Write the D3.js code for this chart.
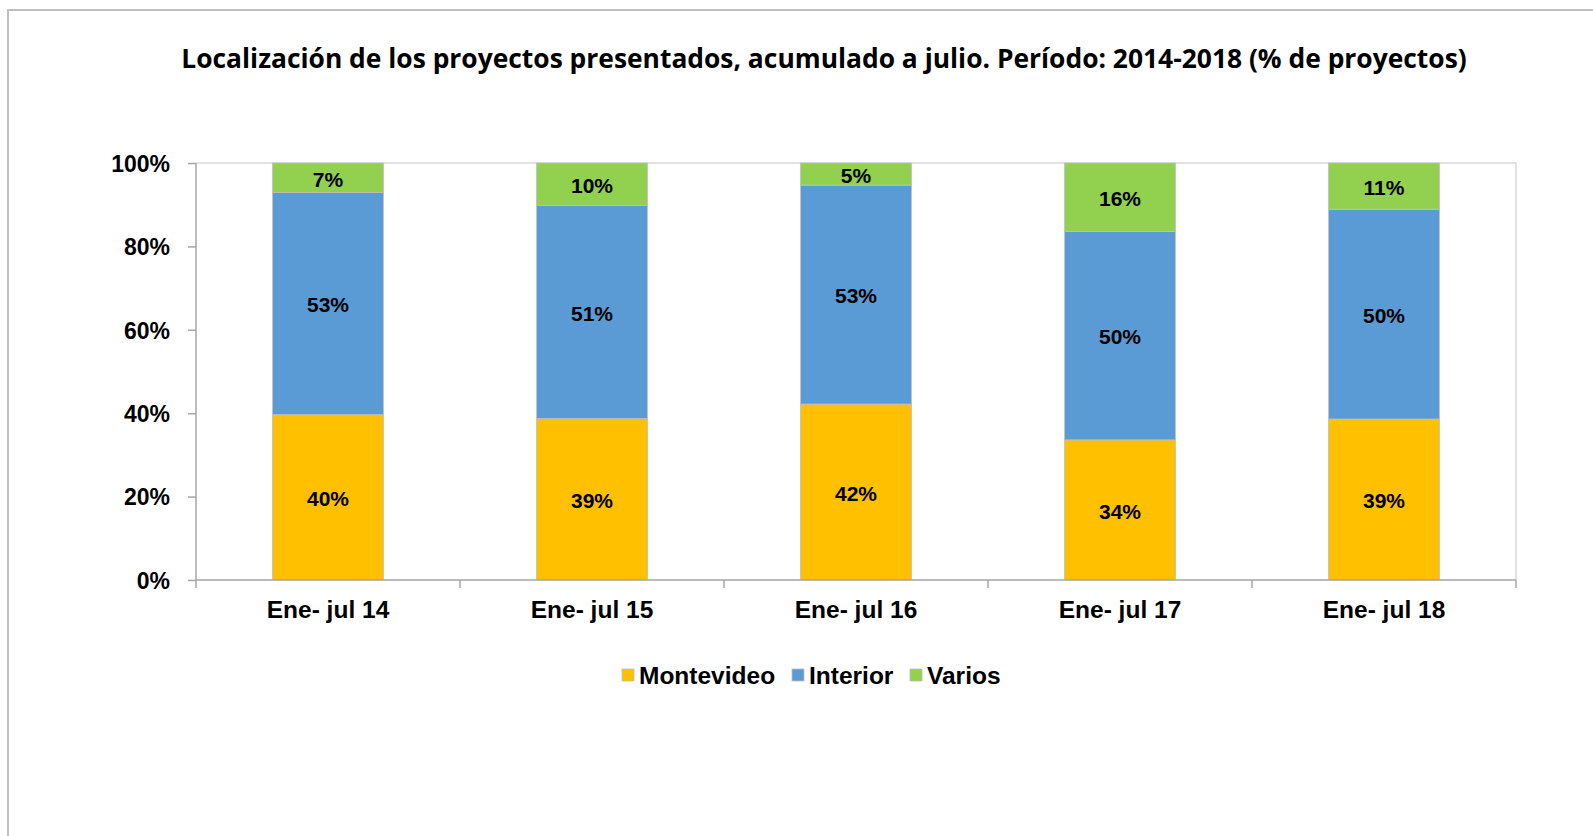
<!DOCTYPE html>
<html>
<head>
<meta charset="utf-8">
<script src="https://cdn.jsdelivr.net/npm/d3@7"></script>
<style>
  body { margin: 0; background: #fff; }
  svg { display: block; }
  .num { font-family: "Liberation Sans", Arial, sans-serif; font-weight: bold; fill: #000; }
</style>
</head>
<body>
<div id="chart"></div>
<script>
// data (% of projects)
var categories = ["Ene- jul 14", "Ene- jul 15", "Ene- jul 16", "Ene- jul 17", "Ene- jul 18"];
var montevideo = [39.7, 38.7, 42.2, 33.6, 38.6];
var interior = [53.2, 51.1, 52.5, 50.0, 50.3];
var varios = [7.1, 10.2, 5.3, 16.4, 11.1];
var seriesNames = ["Montevideo", "Interior", "Varios"];
var seriesColors = ["#FFC000", "#5B9BD5", "#92D050"];
var yTicks = [0, 20, 40, 60, 80, 100];
var title = "Localización de los proyectos presentados, acumulado a julio. Período: 2014-2018 (% de proyectos)";

var width = 1593, height = 836;
var plot = { left: 196, right: 1516, top: 163, bottom: 580 };

var svg = d3.select("#chart").append("svg")
    .attr("width", width)
    .attr("height", height);

// outer chart border (continues past the window)
svg.append("rect")
    .attr("x", 8).attr("y", 10)
    .attr("width", width + 20).attr("height", height + 20)
    .attr("fill", "#fff")
    .attr("stroke", "#bfbfbf")
    .attr("stroke-width", 2);

svg.append("text")
    .attr("x", 824).attr("y", 68)
    .attr("text-anchor", "middle")
    .style("font-family", "'Open Sans', sans-serif")
    .style("font-weight", "bold")
    .style("font-size", "26.4px")
    .text(title);

var valuesBySeries = { Montevideo: montevideo, Interior: interior, Varios: varios };

var rows = categories.map(function (c, i) {
    return { cat: c, idx: i, Montevideo: montevideo[i], Interior: interior[i], Varios: varios[i] };
});

var stack = d3.stack().keys(seriesNames)(rows);

var x = d3.scaleBand()
    .domain(categories)
    .range([plot.left, plot.right])
    .paddingInner(0.58)
    .paddingOuter(0.29);

var y = d3.scaleLinear()
    .domain([0, 100])
    .range([plot.bottom, plot.top]);

var color = d3.scaleOrdinal().domain(seriesNames).range(seriesColors);

// plot area border (top and right)
svg.append("path")
    .attr("d", "M" + plot.left + "," + plot.top + "H" + plot.right + "V" + plot.bottom)
    .attr("fill", "none")
    .attr("stroke", "#d9d9d9")
    .attr("stroke-width", 1.5);

var layers = svg.append("g").selectAll("g")
    .data(stack)
    .enter().append("g")
    .attr("fill", function (d) { return color(d.key); });

layers.selectAll("rect")
    .data(function (d) { return d; })
    .enter().append("rect")
    .attr("x", function (d) { return x(d.data.cat); })
    .attr("y", function (d) { return y(d[1]); })
    .attr("width", x.bandwidth())
    .attr("height", function (d) { return y(d[0]) - y(d[1]); })
    .attr("stroke", "#bfbfbf")
    .attr("stroke-width", 0.8);

// data labels
layers.selectAll("text")
    .data(function (d) { return d.map(function (p) { p.key = d.key; return p; }); })
    .enter().append("text")
    .attr("class", "num")
    .attr("x", function (d) { return x(d.data.cat) + x.bandwidth() / 2; })
    .attr("y", function (d) { return y((d[0] + d[1]) / 2); })
    .attr("dy", "0.42em")
    .attr("text-anchor", "middle")
    .style("font-size", "21px")
    .text(function (d) { return Math.round(valuesBySeries[d.key][d.data.idx]) + "%"; });

// y axis
var yAxis = svg.append("g")
    .attr("transform", "translate(" + plot.left + ",0)")
    .call(d3.axisLeft(y).tickValues(yTicks).tickSize(8).tickPadding(18)
        .tickFormat(function (d) { return d + "%"; }));
yAxis.selectAll("path, line").attr("stroke", "#a6a6a6").attr("stroke-width", 1.5);
yAxis.select(".domain").attr("d", "M0," + plot.top + "V" + plot.bottom);
yAxis.selectAll("text").attr("class", "num").style("font-size", "23px").attr("dy", "0.36em");

// x axis with ticks between categories
var xAxis = svg.append("g")
    .attr("transform", "translate(0," + plot.bottom + ")");
xAxis.append("line")
    .attr("x1", plot.left).attr("x2", plot.right)
    .attr("stroke", "#a6a6a6").attr("stroke-width", 1.5);
var step = x.step();
var bounds = d3.range(categories.length + 1).map(function (i) { return plot.left + i * step; });
xAxis.selectAll(".tk").data(bounds).enter().append("line")
    .attr("x1", function (d) { return d; }).attr("x2", function (d) { return d; })
    .attr("y1", 0).attr("y2", 8)
    .attr("stroke", "#a6a6a6").attr("stroke-width", 1.5);
xAxis.selectAll(".lbl").data(categories).enter().append("text")
    .attr("class", "num")
    .attr("x", function (d) { return x(d) + x.bandwidth() / 2; })
    .attr("y", 38)
    .attr("text-anchor", "middle")
    .style("font-size", "24.5px")
    .text(function (d) { return d; });

// legend
var legendX = [622, 792, 910];
var legend = svg.append("g").selectAll("g")
    .data(seriesNames)
    .enter().append("g")
    .attr("transform", function (d, i) { return "translate(" + legendX[i] + ",669)"; });
legend.append("rect")
    .attr("width", 12).attr("height", 12)
    .attr("fill", function (d) { return color(d); })
    .attr("stroke", "#bfbfbf").attr("stroke-width", 0.8);
legend.append("text")
    .attr("class", "num")
    .attr("x", 17).attr("y", 6)
    .attr("dy", "0.36em")
    .style("font-size", "24.5px")
    .text(function (d) { return d; });
</script>
</body>
</html>
